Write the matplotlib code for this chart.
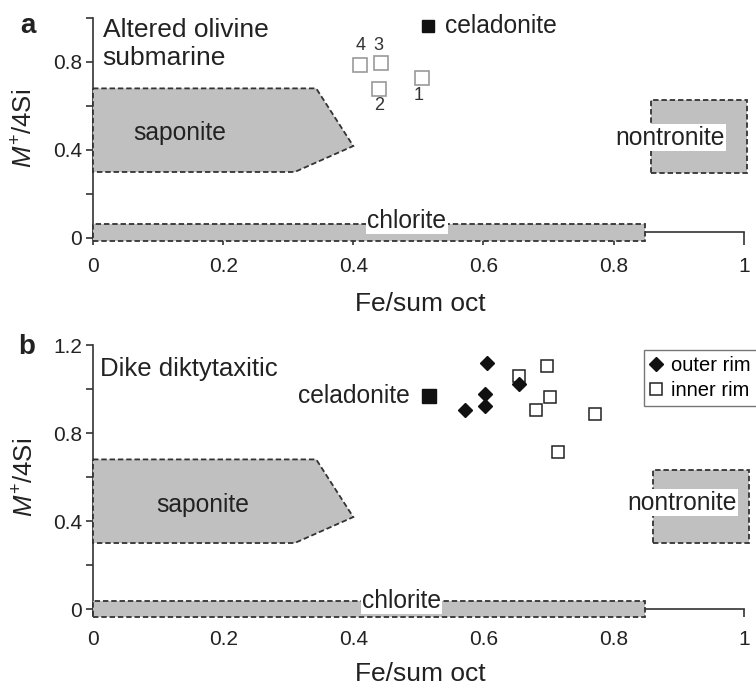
import matplotlib
matplotlib.use('Agg')
import matplotlib.pyplot as plt
from matplotlib.patches import Polygon, Rectangle
from matplotlib.lines import Line2D

plt.rcParams['font.family'] = ['Liberation Sans', 'DejaVu Sans']
plt.rcParams['mathtext.fontset'] = 'custom'
plt.rcParams['mathtext.rm'] = 'Liberation Sans'
plt.rcParams['mathtext.it'] = 'Liberation Sans:italic'

# panel a: altered olivine, submarine
a_fe = [0.505, 0.439, 0.442, 0.411]
a_m = [0.726, 0.676, 0.794, 0.786]
a_labels = ['1', '2', '3', '4']
cel_a_fe, cel_a_m = 0.515, 0.964

# panel b: dike diktytaxitic
outer_fe = [0.606, 0.603, 0.603, 0.572, 0.655]
outer_m = [1.118, 0.977, 0.924, 0.906, 1.022]
inner_fe = [0.698, 0.655, 0.702, 0.681, 0.771, 0.715]
inner_m = [1.103, 1.057, 0.962, 0.906, 0.886, 0.714]
cel_b_fe, cel_b_m = 0.517, 0.97

# mineral fields
saponite = [(0, 0.68), (0.343, 0.68), (0.40, 0.418), (0.31, 0.30), (0, 0.30)]
x_ticks = [0, 0.2, 0.4, 0.6, 0.8, 1]
x_ticklabels = ['0', '0.2', '0.4', '0.6', '0.8', '1']

fill = '#c0c0c0'
edge = '#333333'
txt = '#222222'
dash = (0, (3, 1.6))
big = 17.7

fig = plt.figure(figsize=(7.56, 6.87), dpi=100)
ax1 = fig.add_axes([0.123, 0.6472, 0.878, 0.3266])
ax2 = fig.add_axes([0.123, 0.0991, 0.878, 0.3987])


def field(ax, patch):
    patch.set_facecolor(fill)
    patch.set_edgecolor(edge)
    patch.set_linestyle(dash)
    patch.set_linewidth(1.3)
    patch.set_zorder(3)
    patch.set_clip_on(False)
    ax.add_patch(patch)


def setup(ax, ymax, xaxis_y, yticks, ylabels, tlen, xpad):
    ax.set_xlim(0, 1.02)
    for s in ['top', 'right']:
        ax.spines[s].set_visible(False)
    ax.spines['bottom'].set_position(('data', xaxis_y))
    ax.spines['bottom'].set_bounds(0, 1)
    ax.spines['left'].set_bounds(0, ymax)
    for s in ['bottom', 'left']:
        ax.spines[s].set_color('#333333')
        ax.spines[s].set_linewidth(1.2)
    ax.set_xticks(x_ticks)
    ax.set_xticklabels(x_ticklabels)
    ax.set_yticks(yticks)
    ax.set_yticklabels(ylabels)
    ax.tick_params(axis='x', length=tlen, width=1.2, color='#333333',
                   labelsize=15, labelcolor=txt, pad=xpad)
    ax.tick_params(axis='y', length=5, width=1.2, color='#333333',
                   labelsize=15, labelcolor=txt, pad=3)


# ---- panel a ----
ax1.set_ylim(-0.02, 1.0)
setup(ax1, 1.0, 0.025, [0, 0.2, 0.4, 0.6, 0.8, 1.0],
      ['0', '', '0.4', '', '0.8', ''], 9, 9)
field(ax1, Polygon(saponite, closed=True))
field(ax1, Rectangle((0, -0.012), 0.848, 0.074))
field(ax1, Rectangle((0.857, 0.297), 0.148, 0.33))
ax1.text(0.134, 0.476, 'saponite', fontsize=big, color=txt,
         ha='center', va='center', zorder=4)
ax1.text(0.887, 0.455, 'nontronite', fontsize=big, color=txt, ha='center',
         va='center', zorder=4,
         bbox=dict(facecolor='white', edgecolor='none', pad=1))
ax1.text(0.482, 0.079, 'chlorite', fontsize=big, color=txt, ha='center',
         va='center', zorder=4,
         bbox=dict(facecolor='white', edgecolor='none', pad=1))
ax1.plot(a_fe, a_m, 's', ms=10, mfc='white', mec='#9a9a9a', mew=1.2,
         linestyle='none', zorder=5)
offs = [(0.501, 0.647), (0.439, 0.60), (0.439, 0.877), (0.411, 0.877)]
for lab, (x, y) in zip(a_labels, offs):
    ax1.text(x, y, lab, fontsize=13, color='#333333', ha='center',
             va='center')
ax1.plot([cel_a_fe], [cel_a_m], 's', ms=8, color='#111111', zorder=5)
ax1.text(cel_a_fe + 0.026, cel_a_m, 'celadonite', fontsize=big, color=txt,
         ha='left', va='center')
ax1.text(0.015, 0.88, 'Altered olivine\nsubmarine', fontsize=19, color=txt,
         ha='left', va='center', linespacing=1.2)
fig.text(20 / 756, 1 - 26 / 687, 'a', fontsize=20, fontweight='bold',
         color=txt, ha='left', va='center')

# ---- panel b ----
ax2.set_ylim(-0.045, 1.2)
setup(ax2, 1.2, 0.0, [0, 0.2, 0.4, 0.6, 0.8, 1.0, 1.2],
      ['0', '', '0.4', '', '0.8', '', '1.2'], 6, 9)
field(ax2, Polygon(saponite, closed=True))
field(ax2, Rectangle((0, -0.038), 0.848, 0.073))
field(ax2, Rectangle((0.86, 0.30), 0.148, 0.333))
ax2.text(0.168, 0.474, 'saponite', fontsize=big, color=txt,
         ha='center', va='center', zorder=4)
ax2.text(0.905, 0.483, 'nontronite', fontsize=big, color=txt, ha='center',
         va='center', zorder=4,
         bbox=dict(facecolor='white', edgecolor='none', pad=1))
ax2.text(0.474, 0.035, 'chlorite', fontsize=big, color=txt, ha='center',
         va='center', zorder=4,
         bbox=dict(facecolor='white', edgecolor='none', pad=0.5))
ax2.plot(inner_fe, inner_m, 's', ms=8, mfc='white', mec='#222222', mew=1.1,
         linestyle='none', zorder=5)
ax2.plot(outer_fe, outer_m, 'D', ms=7, color='#111111', linestyle='none',
         zorder=6)
ax2.plot([cel_b_fe], [cel_b_m], 's', ms=10, color='#111111', zorder=5)
ax2.text(cel_b_fe - 0.03, cel_b_m, 'celadonite', fontsize=big, color=txt,
         ha='right', va='center')
ax2.text(0.011, 1.092, 'Dike diktytaxitic', fontsize=18.5, color=txt,
         ha='left', va='center')
fig.text(18 / 756, 1 - 347 / 687, 'b', fontsize=20, fontweight='bold',
         color=txt, ha='left', va='center')

# axis titles
ylab = r'$M^{+}$/4Si'
fig.text(25 / 756, 1 - 128 / 687, ylab, fontsize=18.5, color=txt,
         rotation=90, ha='center', va='center')
fig.text(26 / 756, 1 - 477 / 687, ylab, fontsize=18.5, color=txt,
         rotation=90, ha='center', va='center')
fig.text(420 / 756, 1 - 311 / 687, 'Fe/sum oct', fontsize=19, color=txt,
         ha='center', va='baseline')
fig.text(420 / 756, 1 - 681 / 687, 'Fe/sum oct', fontsize=19, color=txt,
         ha='center', va='baseline')

handles = [Line2D([], [], marker='D', ms=7, color='#111111', linestyle='none'),
           Line2D([], [], marker='s', ms=8, mfc='white', mec='#222222',
                  mew=1.1, linestyle='none')]
leg = ax2.legend(handles, ['outer rim', 'inner rim'], loc='upper left',
                 bbox_to_anchor=(644 / 756, 1 - 350 / 687),
                 bbox_transform=fig.transFigure, fontsize=14.5, frameon=True,
                 fancybox=False, edgecolor='#555555', handlelength=0.6,
                 handletextpad=0.45, borderpad=0.3, labelspacing=0.3,
                 borderaxespad=0)
leg.get_frame().set_linewidth(1.0)

fig.savefig('out.png', dpi=100)
